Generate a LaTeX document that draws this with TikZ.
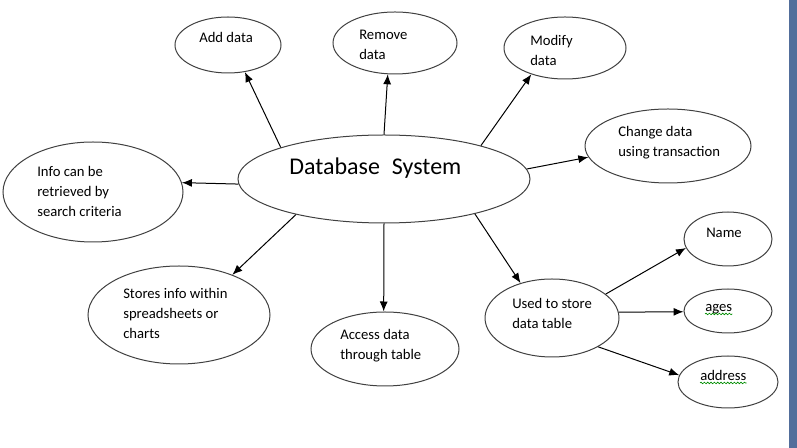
\documentclass[tikz,border=0pt]{standalone}
\usepackage{fontspec}
\setmainfont{Carlito}
\usepackage{tikz}
\usetikzlibrary{arrows.meta,calc}
\usetikzlibrary{positioning}
\usetikzlibrary{shapes}
\usetikzlibrary{decorations.pathmorphing}
\newcommand{\TikZscale}{0.75}
\newcommand{\px}{*\TikZscale pt}
\tikzset{every picture/.style={auto, >={Latex[length=7.5pt,width=6pt]}}}
\tikzstyle{to}			= [->, line width=0.75pt]
\tikzstyle{bubble}		= [ellipse, draw=black!75, line width=0.75pt, inner sep=0pt]
\tikzstyle{txt}			= [anchor=west, align=left, inner sep=0pt, font=\fontsize{11}{15}\selectfont]
\tikzstyle{squiggle}	= [draw=green!55!black, line width=0.5pt, decorate, decoration={snake, amplitude=0.6pt, segment length=2.5pt}]
\definecolor{pagebar}{RGB}{82,110,155}

\begin{document}
\begin{tikzpicture}
	\useasboundingbox (0,0) rectangle (797\px,-448\px);

	% Zentrum
	\node[bubble, minimum width=292\px, minimum height=88\px] (db) at (384\px,-179\px) {};
	\node[txt, font=\fontsize{18}{22}\selectfont] (dbT) at (289\px,-168\px) {Database\hspace{9pt}System};

	% Aussen
	\node[bubble, minimum width=106\px, minimum height=56\px] (add) at (228\px,-45\px) {};
	\node[txt] (addT) at (199\px,-37\px) {Add data};
	\node[bubble, minimum width=124\px, minimum height=62\px] (remove) at (395\px,-43\px) {};
	\node[txt] (removeT) at (359\px,-45\px) {Remove\\data};
	\node[bubble, minimum width=122\px, minimum height=62\px] (modify) at (565\px,-48\px) {};
	\node[txt] (modifyT) at (530\px,-50\px) {Modify\\data};
	\node[bubble, minimum width=166\px, minimum height=74\px] (change) at (668\px,-146\px) {};
	\node[txt] (changeT) at (618\px,-143\px) {Change data\\using transaction};
	\node[bubble, minimum width=180\px, minimum height=100\px] (info) at (93\px,-192\px) {};
	\node[txt] (infoT) at (37\px,-191\px) {Info can be\\retrieved by\\search criteria};
	\node[bubble, minimum width=182\px, minimum height=98\px] (stores) at (179\px,-315\px) {};
	\node[txt] (storesT) at (123\px,-313\px) {Stores info within\\spreadsheets or\\charts};
	\node[bubble, minimum width=148\px, minimum height=74\px] (access) at (385\px,-349\px) {};
	\node[txt] (accessT) at (340\px,-346\px) {Access data\\through table};
	\node[bubble, minimum width=134\px, minimum height=78\px] (used) at (552\px,-318\px) {};
	\node[txt] (usedT) at (512\px,-313\px) {Used to store\\data table};

	% Felder
	\node[bubble, minimum width=88\px, minimum height=54\px] (name) at (728\px,-239\px) {};
	\node[txt] (nameT) at (706\px,-233\px) {Name};
	\node[bubble, minimum width=88\px, minimum height=44\px] (ages) at (728\px,-311\px) {};
	\node[txt] (agesT) at (705\px,-309\px) {ages};
	\node[bubble, minimum width=100\px, minimum height=52\px] (address) at (728\px,-382\px) {};
	\node[txt] (addressT) at (700\px,-375\px) {address};
	\draw[squiggle] ([yshift=-2pt]agesT.base west) -- ([yshift=-2pt]agesT.base east);
	\draw[squiggle] ([yshift=-2.2pt]addressT.base west) -- ([yshift=-2.2pt]addressT.base east);

	% Pfeile
	\draw[to] (db.163) -- (add.-58);
	\draw[to] (db.90) -- (remove.-103);
	\draw[to] (db.19) -- (modify.-142);
	\draw[to] (db.4) -- (change.188);
	\draw[to] (db.182) -- (info.6);
	\draw[to] (db.202) -- (stores.37);
	\draw[to] (db.-90) -- (access.92);
	\draw[to] (db.-21) -- (used.132);
	\draw[to] (used.24) -- (name.192);
	\draw[to] (used.5) -- (ages.181);
	\draw[to] (used.-32) -- (address.172);

	% Seitenrand
	\fill[pagebar] (789\px,0) rectangle (797\px,-448\px);
\end{tikzpicture}
\end{document}
